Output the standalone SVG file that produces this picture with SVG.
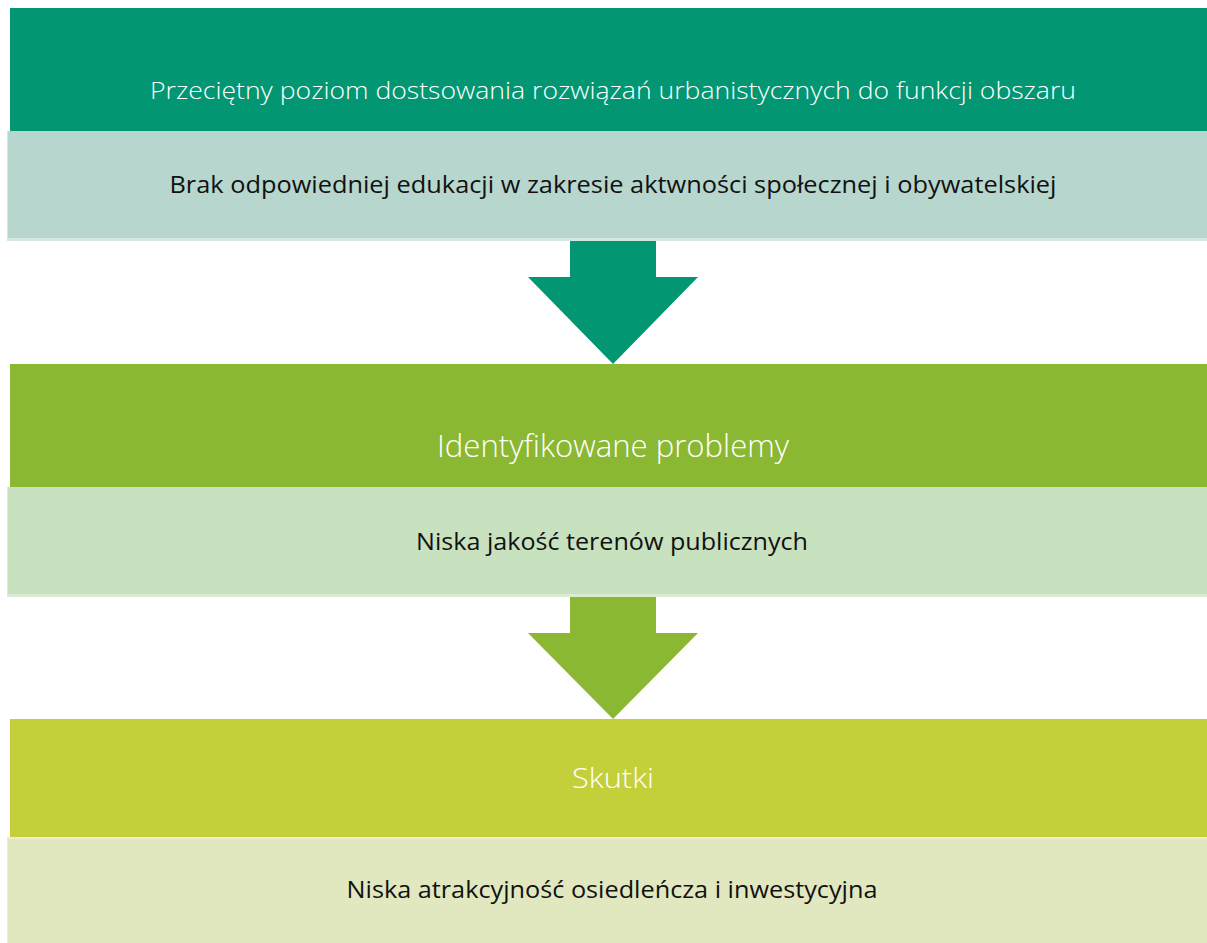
<svg xmlns="http://www.w3.org/2000/svg" width="1207" height="943" viewBox="0 0 1207 943">
<style>
.hd{font-family:"Open Sans","Liberation Sans",sans-serif;font-weight:300;fill:#ffffff;text-anchor:middle}
.bd{font-family:"Open Sans","Liberation Sans",sans-serif;font-weight:400;fill:#111111;text-anchor:middle}
</style>
<rect width="1207" height="943" fill="#ffffff"/>
<g id="connectors">
<polygon points="570,241 656,241 656,277 698,277 613,364 528,277 570,277" fill="#029673"/>
<polygon points="570,597 656,597 656,633 698,633 613,719 528,633 570,633" fill="#8bb833"/>
</g>
<g id="node-causes-header">
<rect x="10" y="8" width="1197" height="123" fill="#029673"/>
<text class="hd" x="613" y="99" font-size="24" textLength="926" lengthAdjust="spacingAndGlyphs">Przeciętny poziom dostsowania rozwiązań urbanistycznych do funkcji obszaru</text>
</g>
<g id="node-causes-body">
<rect x="7" y="131" width="1200" height="110" fill="#d5e7e1"/>
<rect x="8" y="131" width="1199" height="107" fill="#b7d6cd"/>
<text class="bd" x="613" y="193" font-size="23" textLength="887" lengthAdjust="spacingAndGlyphs">Brak odpowiedniej edukacji w zakresie aktwności społecznej i obywatelskiej</text>
</g>
<g id="node-problems-header">
<rect x="10" y="364" width="1197" height="123" fill="#8bb833"/>
<text class="hd" x="613" y="457" font-size="31" textLength="352" lengthAdjust="spacingAndGlyphs">Identyfikowane problemy</text>
</g>
<g id="node-problems-body">
<rect x="7" y="487" width="1200" height="110" fill="#dbebd4"/>
<rect x="8" y="487" width="1199" height="107" fill="#c8e1bf"/>
<text class="bd" x="612" y="550" font-size="23" textLength="392" lengthAdjust="spacingAndGlyphs">Niska jakość terenów publicznych</text>
</g>
<g id="node-effects-header">
<rect x="10" y="719" width="1197" height="118" fill="#c3d03a"/>
<text class="hd" x="613" y="788" font-size="28" textLength="82" lengthAdjust="spacingAndGlyphs">Skutki</text>
</g>
<g id="node-effects-body">
<rect x="7" y="837" width="1200" height="106" fill="#e9eed0"/>
<rect x="8" y="839" width="1199" height="104" fill="#e1e8bf"/>
<text class="bd" x="612" y="898" font-size="23" textLength="531" lengthAdjust="spacingAndGlyphs">Niska atrakcyjność osiedleńcza i inwestycyjna</text>
</g>
</svg>
